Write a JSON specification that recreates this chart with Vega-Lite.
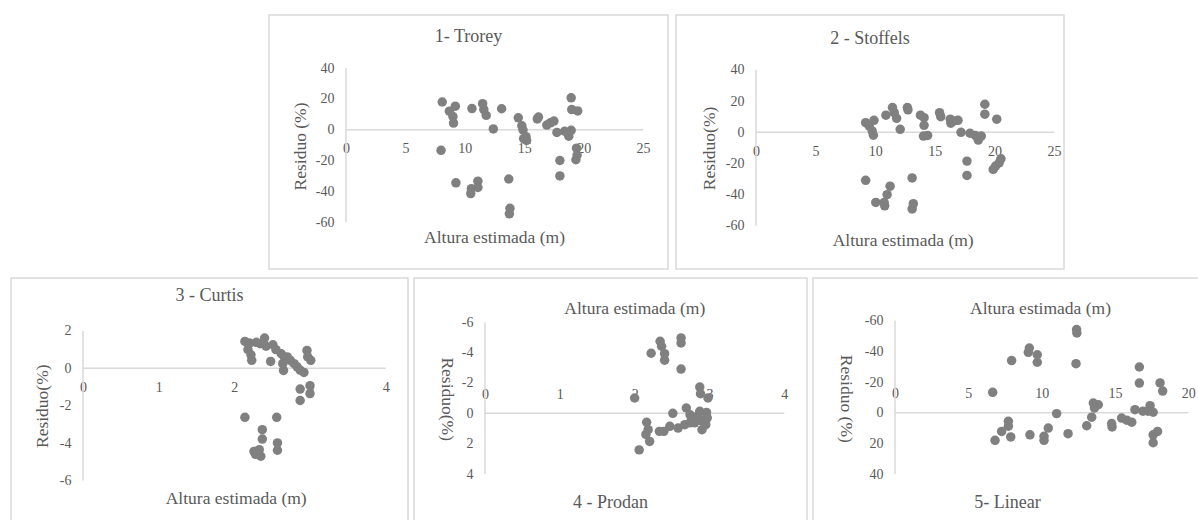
{
  "$schema": "https://vega.github.io/schema/vega-lite/v6.json",
  "padding": {"left": 10, "top": 14, "right": 0, "bottom": 0},
  "background": "white",
  "datasets": {
    "trorey": [
      {"altura": 8.1, "residuo": 18}, {"altura": 8.7, "residuo": 12}, {"altura": 9.2, "residuo": 15.3}, {"altura": 9.0, "residuo": 8.5},
      {"altura": 9.05, "residuo": 4.3}, {"altura": 8.0, "residuo": -13.4}, {"altura": 9.25, "residuo": -34.5}, {"altura": 10.6, "residuo": 13.7},
      {"altura": 10.5, "residuo": -41.5}, {"altura": 10.55, "residuo": -38.3}, {"altura": 11.1, "residuo": -33.4}, {"altura": 11.1, "residuo": -37.5},
      {"altura": 11.5, "residuo": 16.9}, {"altura": 11.6, "residuo": 13.1}, {"altura": 11.8, "residuo": 9.3}, {"altura": 12.4, "residuo": 0.5},
      {"altura": 13.1, "residuo": 13.6}, {"altura": 13.7, "residuo": -32}, {"altura": 13.8, "residuo": -51}, {"altura": 13.75, "residuo": -54.6},
      {"altura": 14.5, "residuo": 7.7}, {"altura": 14.8, "residuo": 2.5}, {"altura": 14.9, "residuo": -0.2}, {"altura": 14.95, "residuo": -5.8},
      {"altura": 15.15, "residuo": -4.5}, {"altura": 15.2, "residuo": -7}, {"altura": 16.2, "residuo": 8.2}, {"altura": 16.1, "residuo": 7},
      {"altura": 16.9, "residuo": 3}, {"altura": 17.2, "residuo": 4.5}, {"altura": 17.5, "residuo": 5.6}, {"altura": 17.75, "residuo": -1.8},
      {"altura": 18.0, "residuo": -20}, {"altura": 18.0, "residuo": -30}, {"altura": 18.4, "residuo": -1}, {"altura": 18.75, "residuo": -4.2},
      {"altura": 18.95, "residuo": -0.4}, {"altura": 18.95, "residuo": 20.7}, {"altura": 19.0, "residuo": 13.1}, {"altura": 19.5, "residuo": 12.2},
      {"altura": 19.35, "residuo": -19.5}, {"altura": 19.45, "residuo": -16.5}, {"altura": 19.4, "residuo": -12}
    ],
    "stoffels": [
      {"altura": 9.2, "residuo": 6.2}, {"altura": 9.5, "residuo": 4.1}, {"altura": 9.9, "residuo": 7.7}, {"altura": 9.75, "residuo": 0.8},
      {"altura": 9.85, "residuo": -1.9}, {"altura": 9.2, "residuo": -30.8}, {"altura": 10.05, "residuo": -45}, {"altura": 10.75, "residuo": -45},
      {"altura": 10.8, "residuo": -47.2}, {"altura": 11.0, "residuo": -40}, {"altura": 11.25, "residuo": -34.6}, {"altura": 10.9, "residuo": 11},
      {"altura": 11.45, "residuo": 15.9}, {"altura": 11.6, "residuo": 12.6}, {"altura": 11.8, "residuo": 9}, {"altura": 12.1, "residuo": 1.9},
      {"altura": 12.7, "residuo": 15.9}, {"altura": 12.75, "residuo": 14.4}, {"altura": 13.1, "residuo": -29.3}, {"altura": 13.2, "residuo": -45.8},
      {"altura": 13.1, "residuo": -49.2}, {"altura": 13.8, "residuo": 11}, {"altura": 14.1, "residuo": 9.4}, {"altura": 14.1, "residuo": 4.5},
      {"altura": 14.05, "residuo": -2.4}, {"altura": 14.4, "residuo": -2}, {"altura": 15.4, "residuo": 12.6}, {"altura": 15.5, "residuo": 10},
      {"altura": 16.3, "residuo": 8.4}, {"altura": 16.35, "residuo": 5.8}, {"altura": 16.6, "residuo": 7.3}, {"altura": 16.95, "residuo": 7.7},
      {"altura": 17.2, "residuo": 0}, {"altura": 17.7, "residuo": -18.5}, {"altura": 17.7, "residuo": -27.7}, {"altura": 17.95, "residuo": -0.6},
      {"altura": 18.4, "residuo": -2}, {"altura": 18.65, "residuo": -5}, {"altura": 18.9, "residuo": -2.4}, {"altura": 19.2, "residuo": 18},
      {"altura": 19.2, "residuo": 11.6}, {"altura": 20.2, "residuo": 8.4}, {"altura": 19.9, "residuo": -23.8}, {"altura": 20.1, "residuo": -21.7},
      {"altura": 20.4, "residuo": -19.6}, {"altura": 20.55, "residuo": -17}
    ],
    "curtis": [
      {"altura": 2.14, "residuo": 1.44}, {"altura": 2.2, "residuo": 1.35}, {"altura": 2.18, "residuo": 1.0}, {"altura": 2.22, "residuo": 0.72},
      {"altura": 2.23, "residuo": 0.43}, {"altura": 2.29, "residuo": 1.39}, {"altura": 2.34, "residuo": 1.32}, {"altura": 2.4, "residuo": 1.62},
      {"altura": 2.42, "residuo": 1.18}, {"altura": 2.48, "residuo": 0.37}, {"altura": 2.51, "residuo": 1.26}, {"altura": 2.55, "residuo": 1.0},
      {"altura": 2.62, "residuo": 0.78}, {"altura": 2.66, "residuo": 0.61}, {"altura": 2.64, "residuo": 0.25}, {"altura": 2.65, "residuo": -0.11},
      {"altura": 2.7, "residuo": 0.61}, {"altura": 2.74, "residuo": 0.43}, {"altura": 2.79, "residuo": 0.25}, {"altura": 2.83, "residuo": 0.08},
      {"altura": 2.87, "residuo": -0.1}, {"altura": 2.92, "residuo": -0.22}, {"altura": 2.96, "residuo": 0.96}, {"altura": 2.97, "residuo": 0.61},
      {"altura": 3.01, "residuo": 0.43}, {"altura": 2.87, "residuo": -1.11}, {"altura": 2.87, "residuo": -1.72}, {"altura": 3.0, "residuo": -0.93},
      {"altura": 3.0, "residuo": -1.35}, {"altura": 2.14, "residuo": -2.62}, {"altura": 2.56, "residuo": -2.62}, {"altura": 2.37, "residuo": -3.28},
      {"altura": 2.37, "residuo": -3.78}, {"altura": 2.26, "residuo": -4.44}, {"altura": 2.33, "residuo": -4.35}, {"altura": 2.35, "residuo": -4.7},
      {"altura": 2.28, "residuo": -4.6}, {"altura": 2.57, "residuo": -3.99}, {"altura": 2.57, "residuo": -4.38}
    ],
    "prodan": [
      {"altura": 2.34, "residuo": -4.75}, {"altura": 2.36, "residuo": -4.42}, {"altura": 2.22, "residuo": -3.96}, {"altura": 2.4, "residuo": -3.93},
      {"altura": 2.4, "residuo": -3.5}, {"altura": 2.62, "residuo": -4.97}, {"altura": 2.62, "residuo": -4.64}, {"altura": 2.62, "residuo": -2.92},
      {"altura": 2.0, "residuo": -1.01}, {"altura": 2.87, "residuo": -1.73}, {"altura": 2.88, "residuo": -1.29}, {"altura": 2.98, "residuo": -1.01},
      {"altura": 2.51, "residuo": 0}, {"altura": 2.69, "residuo": -0.35}, {"altura": 2.74, "residuo": 0.1}, {"altura": 2.8, "residuo": 0.26},
      {"altura": 2.87, "residuo": -0.13}, {"altura": 2.93, "residuo": 0.42}, {"altura": 2.96, "residuo": -0.06}, {"altura": 2.16, "residuo": 0.59},
      {"altura": 2.18, "residuo": 1.08}, {"altura": 2.15, "residuo": 1.39}, {"altura": 2.2, "residuo": 1.85}, {"altura": 2.06, "residuo": 2.41},
      {"altura": 2.33, "residuo": 1.19}, {"altura": 2.39, "residuo": 1.19}, {"altura": 2.47, "residuo": 0.86}, {"altura": 2.58, "residuo": 0.97},
      {"altura": 2.67, "residuo": 0.75}, {"altura": 2.74, "residuo": 0.63}, {"altura": 2.8, "residuo": 0.63}, {"altura": 2.9, "residuo": 1.08},
      {"altura": 2.95, "residuo": 0.75}, {"altura": 2.77, "residuo": 0.4}, {"altura": 2.84, "residuo": 0.2}, {"altura": 2.9, "residuo": 0.5},
      {"altura": 2.97, "residuo": 0.3}
    ],
    "linear": [
      {"altura": 6.66, "residuo": -13.3}, {"altura": 6.82, "residuo": 18}, {"altura": 7.27, "residuo": 12.2}, {"altura": 7.73, "residuo": 5.6},
      {"altura": 7.73, "residuo": 8.8}, {"altura": 7.89, "residuo": 15.8}, {"altura": 7.95, "residuo": -34}, {"altura": 9.16, "residuo": -42.2},
      {"altura": 9.09, "residuo": -39.4}, {"altura": 9.7, "residuo": -37.8}, {"altura": 9.7, "residuo": -32.9}, {"altura": 9.2, "residuo": 14.4},
      {"altura": 10.16, "residuo": 15.4}, {"altura": 10.16, "residuo": 18}, {"altura": 10.45, "residuo": 10}, {"altura": 11.02, "residuo": 0.6},
      {"altura": 11.8, "residuo": 13.7}, {"altura": 12.38, "residuo": -54.2}, {"altura": 12.4, "residuo": -52}, {"altura": 12.34, "residuo": -32},
      {"altura": 13.07, "residuo": 8.5}, {"altura": 13.41, "residuo": 2.9}, {"altura": 13.52, "residuo": -6.3}, {"altura": 13.86, "residuo": -5.2},
      {"altura": 13.6, "residuo": -3.1}, {"altura": 14.77, "residuo": 7.1}, {"altura": 14.8, "residuo": 9.3}, {"altura": 15.45, "residuo": 3.5},
      {"altura": 15.8, "residuo": 4.9}, {"altura": 16.14, "residuo": 6.2}, {"altura": 16.36, "residuo": -2}, {"altura": 16.66, "residuo": -29.8},
      {"altura": 16.66, "residuo": -19.3}, {"altura": 16.9, "residuo": -1}, {"altura": 17.25, "residuo": -1}, {"altura": 17.39, "residuo": -4.6},
      {"altura": 17.6, "residuo": -0.3}, {"altura": 17.6, "residuo": 14.4}, {"altura": 17.9, "residuo": 12.2}, {"altura": 17.6, "residuo": 19.6},
      {"altura": 18.07, "residuo": -19.4}, {"altura": 18.25, "residuo": -14.1}
    ]
  },
  "vconcat": [
    {
      "spacing": 6,
      "hconcat": [
        {
          "width": 251, "height": 10,
          "data": {"values": [{}]},
          "mark": {"type": "text", "text": ""},
          "encoding": {},
          "view": {"stroke": null}
        },
        {
          "width": 399, "height": 254,
          "title": {"text": "1- Trorey", "orient": "top", "offset": -31},
          "layer": [
            {"data": {"values": [{}]}, "mark": {"type": "rule"}, "encoding": {"x": {"datum": 0}, "x2": {"datum": 25}, "y": {"datum": 0}}},
            {"data": {"values": [{}]}, "mark": {"type": "rule"}, "encoding": {"x": {"datum": 0}, "y": {"datum": -60}, "y2": {"datum": 40}}},
            {
              "data": {"name": "trorey"},
              "mark": {"type": "circle"},
              "encoding": {
                "x": {"field": "altura", "type": "quantitative",
                  "scale": {"domain": [-6.48, 27.1], "nice": false, "zero": false},
                  "axis": {"orient": "bottom", "offset": -139.3, "values": [0, 5, 10, 15, 20, 25], "labelExpr": "'' + datum.value", "labelFont": "Liberation Serif", "title": "Altura estimada (m)", "titleX": 225, "titleY": 107.3}},
                "y": {"field": "residuo", "type": "quantitative",
                  "scale": {"domain": [-90.45, 74.48], "nice": false, "zero": false},
                  "axis": {"orient": "left", "offset": -77, "values": [-60, -40, -20, 0, 20, 40], "labelExpr": "'' + datum.value", "labelFont": "Liberation Serif", "title": "Residuo (%)", "titleX": -46, "titleY": 131}}
              }
            }
          ]
        },
        {
          "width": 388, "height": 254,
          "title": {"text": "2 - Stoffels", "orient": "top", "offset": -33},
          "layer": [
            {"data": {"values": [{}]}, "mark": {"type": "rule"}, "encoding": {"x": {"datum": 0}, "x2": {"datum": 25}, "y": {"datum": 0}}},
            {"data": {"values": [{}]}, "mark": {"type": "rule"}, "encoding": {"x": {"datum": 0}, "y": {"datum": -60}, "y2": {"datum": 40}}},
            {
              "data": {"name": "stoffels"},
              "mark": {"type": "circle"},
              "encoding": {
                "x": {"field": "altura", "type": "quantitative",
                  "scale": {"domain": [-6.71, 25.84], "nice": false, "zero": false},
                  "axis": {"orient": "bottom", "offset": -136.7, "values": [0, 5, 10, 15, 20, 25], "labelExpr": "'' + datum.value", "labelFont": "Liberation Serif", "title": "Altura estimada (m)", "titleX": 226.7, "titleY": 107.7}},
                "y": {"field": "residuo", "type": "quantitative",
                  "scale": {"domain": [-87.74, 75.29], "nice": false, "zero": false},
                  "axis": {"orient": "left", "offset": -80, "values": [-60, -40, -20, 0, 20, 40], "labelExpr": "'' + datum.value", "labelFont": "Liberation Serif", "title": "Residuo(%)", "titleX": -47, "titleY": 133}}
              }
            }
          ]
        }
      ]
    },
    {
      "spacing": 4,
      "hconcat": [
        {
          "width": 397, "height": 245,
          "title": {"text": "3 - Curtis", "orient": "top", "offset": -27},
          "layer": [
            {"data": {"values": [{}]}, "mark": {"type": "rule"}, "encoding": {"x": {"datum": 0}, "x2": {"datum": 4}, "y": {"datum": 0}}},
            {"data": {"values": [{}]}, "mark": {"type": "rule"}, "encoding": {"x": {"datum": 0}, "y": {"datum": -6}, "y2": {"datum": 2}}},
            {
              "data": {"name": "curtis"},
              "mark": {"type": "circle"},
              "encoding": {
                "x": {"field": "altura", "type": "quantitative",
                  "scale": {"domain": [-0.951, 4.295], "nice": false, "zero": false},
                  "axis": {"orient": "bottom", "offset": -154.7, "values": [0, 1, 2, 3, 4], "labelExpr": "'' + datum.value", "labelFont": "Liberation Serif", "title": "Altura estimada (m)", "titleX": 224.7, "titleY": 130}},
                "y": {"field": "residuo", "type": "quantitative",
                  "scale": {"domain": [-8.27, 4.83], "nice": false, "zero": false},
                  "axis": {"orient": "left", "offset": -72, "values": [-6, -4, -2, 0, 2], "labelExpr": "'' + datum.value", "labelFont": "Liberation Serif", "title": "Residuo(%)", "titleX": -40.7, "titleY": 127.7}}
              }
            }
          ]
        },
        {
          "width": 393, "height": 245,
          "title": {"text": "4 - Prodan", "orient": "bottom", "offset": -29},
          "layer": [
            {"data": {"values": [{}]}, "mark": {"type": "rule"}, "encoding": {"x": {"datum": 0}, "x2": {"datum": 4}, "y": {"datum": 0}}},
            {"data": {"values": [{}]}, "mark": {"type": "rule"}, "encoding": {"x": {"datum": 0}, "y": {"datum": -6}, "y2": {"datum": 4}}},
            {
              "data": {"name": "prodan"},
              "mark": {"type": "circle"},
              "encoding": {
                "x": {"field": "altura", "type": "quantitative",
                  "scale": {"domain": [-0.949, 4.303], "nice": false, "zero": false},
                  "axis": {"orient": "top", "offset": -135.3, "values": [0, 1, 2, 3, 4], "labelExpr": "'' + datum.value", "labelFont": "Liberation Serif", "title": "Altura estimada (m)", "titleX": 220.3, "titleY": -105.3}},
                "y": {"field": "residuo", "type": "quantitative",
                  "scale": {"domain": [-8.92, 7.23], "nice": false, "zero": false, "reverse": true},
                  "axis": {"orient": "left", "offset": -71, "values": [-6, -4, -2, 0, 2, 4], "labelExpr": "'' + datum.value", "labelFont": "Liberation Serif", "title": "Residuo(%)", "titleX": -39, "titleY": 120.7, "titleAngle": 90}}
              }
            }
          ]
        },
        {
          "width": 389, "height": 245,
          "title": {"text": "5- Linear", "orient": "bottom", "offset": -29},
          "layer": [
            {"data": {"values": [{}]}, "mark": {"type": "rule"}, "encoding": {"x": {"datum": 0}, "x2": {"datum": 20}, "y": {"datum": 0}}},
            {"data": {"values": [{}]}, "mark": {"type": "rule"}, "encoding": {"x": {"datum": 0}, "y": {"datum": -60}, "y2": {"datum": 40}}},
            {
              "data": {"name": "linear"},
              "mark": {"type": "circle"},
              "encoding": {
                "x": {"field": "altura", "type": "quantitative",
                  "scale": {"domain": [-5.59, 20.93], "nice": false, "zero": false},
                  "axis": {"orient": "top", "offset": -134.7, "values": [0, 5, 10, 15, 20], "labelExpr": "'' + datum.value", "labelFont": "Liberation Serif", "title": "Altura estimada (m)", "titleX": 227, "titleY": -104.7}},
                "y": {"field": "residuo", "type": "quantitative",
                  "scale": {"domain": [-87.87, 71.95], "nice": false, "zero": false, "reverse": true},
                  "axis": {"orient": "left", "offset": -82, "values": [-60, -40, -20, 0, 20, 40], "labelExpr": "'' + datum.value", "labelFont": "Liberation Serif", "title": "Residuo (%)", "titleX": -50, "titleY": 120.3, "titleAngle": 90}}
              }
            }
          ]
        }
      ]
    }
  ],
  "spacing": 7,
  "config": {
    "font": "Liberation Serif",
    "view": {"stroke": "#d9d9d9", "strokeWidth": 1.5},
    "axis": {
      "grid": false, "ticks": false, "tickSize": 0, "domain": false,
      "labelFont": "Liberation Serif", "labelFontSize": 14, "labelColor": "#595959", "labelPadding": 12,
      "labelFlush": false, "labelOverlap": false,
      "titleFont": "Liberation Serif", "titleFontSize": 17.5, "titleFontWeight": "normal", "titleColor": "#595959",
      "titleBaseline": "middle", "titleAlign": "center"
    },
    "title": {"font": "Liberation Serif", "fontSize": 18, "fontWeight": "normal", "color": "#595959", "baseline": "middle", "anchor": "middle"},
    "circle": {"color": "#808080", "size": 90, "opacity": 1},
    "rule": {"color": "#d9d9d9", "strokeWidth": 1.5}
  }
}
